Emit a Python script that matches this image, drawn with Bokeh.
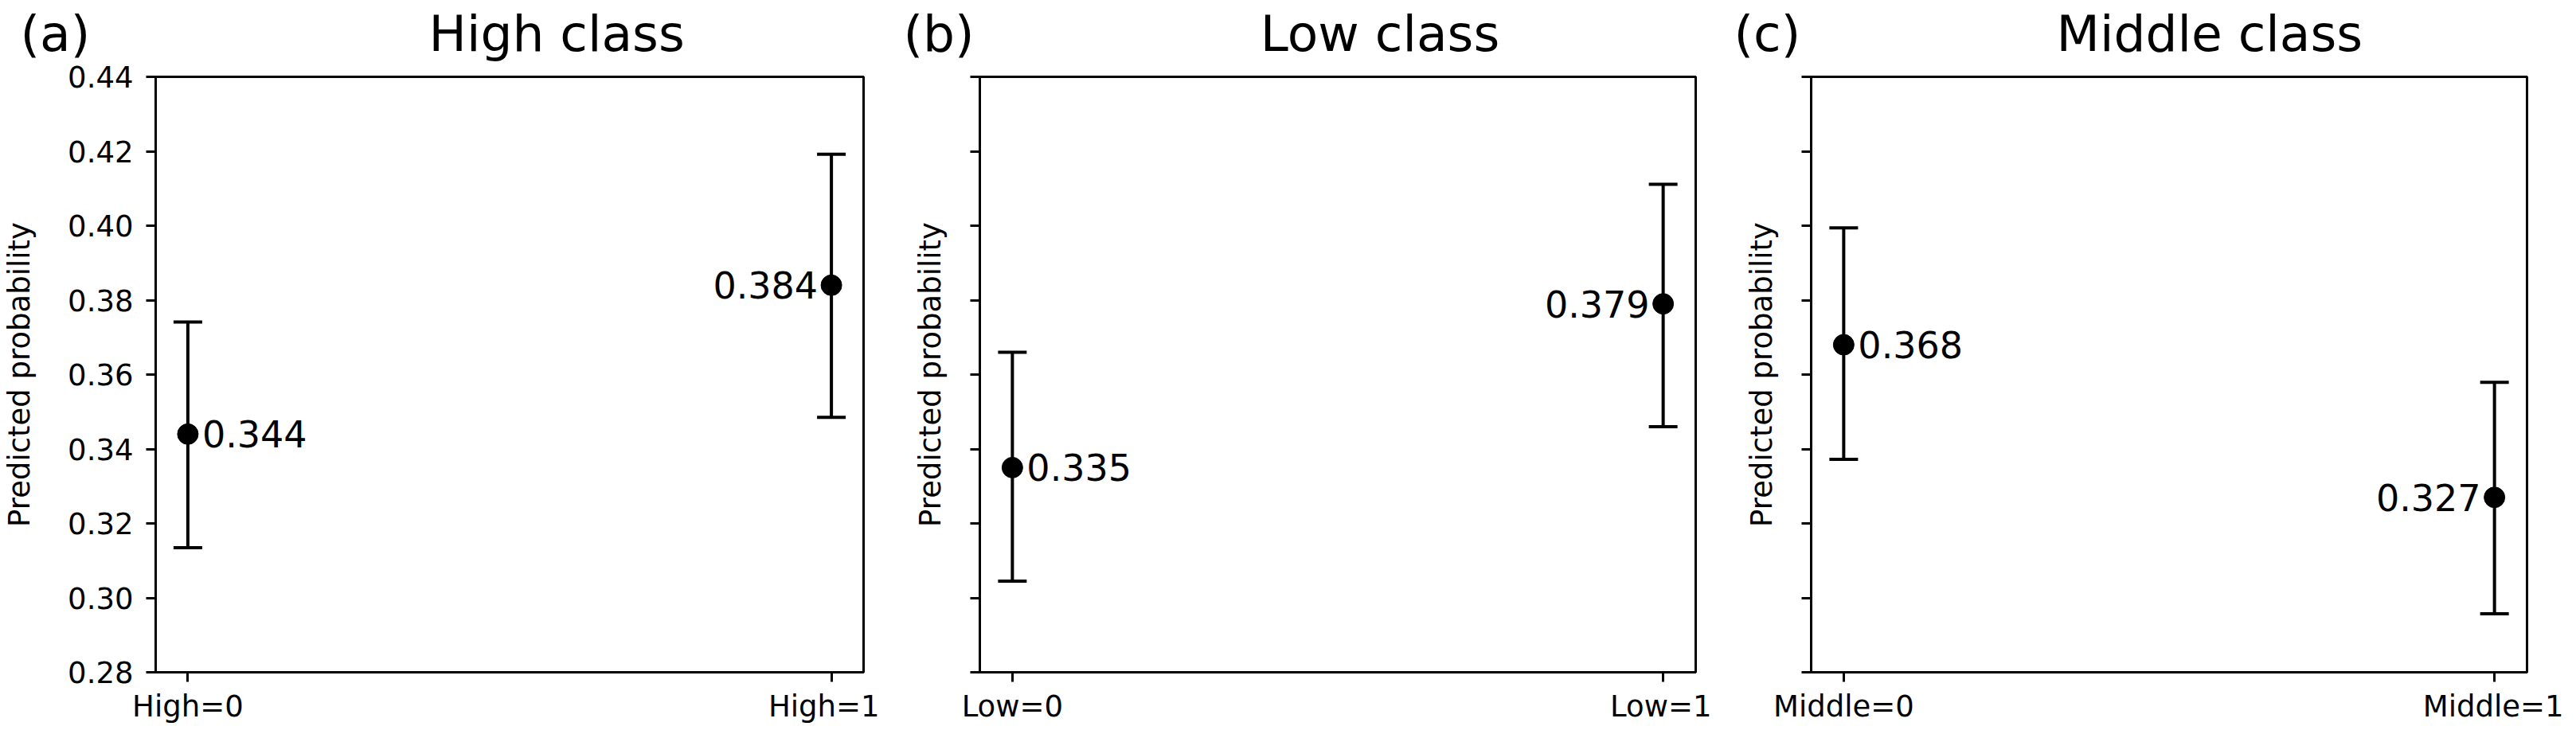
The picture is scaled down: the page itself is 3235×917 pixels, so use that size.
from bokeh.plotting import figure
from bokeh.models import (Range1d, FixedTicker, Whisker, TeeHead, ColumnDataSource,
                          Label, Title, CustomJSTickFormatter)
from bokeh.layouts import row
from bokeh.embed import file_html
from bokeh.resources import INLINE

# ---------------- data ----------------
panel_letters = ["(a)", "(b)", "(c)"]
panel_titles = ["High class", "Low class", "Middle class"]
categories = [["High=0", "High=1"], ["Low=0", "Low=1"], ["Middle=0", "Middle=1"]]
means = [[0.344, 0.384], [0.335, 0.379], [0.368, 0.327]]
lower = [[0.3135, 0.3485], [0.3045, 0.3460], [0.3372, 0.2957]]
upper = [[0.3741, 0.4192], [0.3660, 0.4111], [0.3994, 0.3579]]
y_ticks = [0.28, 0.30, 0.32, 0.34, 0.36, 0.38, 0.40, 0.42, 0.44]
y_label = "Predicted probability"

# ---------------- style ----------------
FONT = "DejaVu Sans"
TITLE_PX = 63
FRAME_W, FRAME_H = 899, 750
BORDER_L = [185, 126, 125]
BORDER_R = [20, 20, 46]
SHIFT_UP = 18                      # canvas starts this far above the page top
BORDER_T, BORDER_B = 96 + SHIFT_UP, 65
TITLE_STANDOFF = 32
LETTER_OFFSET = [-170, -96, -97]          # px from frame left to letter start
TITLE_GAP_EM = [6.756, 5.72, 5.12]        # gap between letter and title, in em


def spacer(gap_em):
    """Build a run of fixed-width unicode spaces about gap_em wide."""
    out = "\u2003" * int(gap_em)
    rem = gap_em - int(gap_em)
    for ch, w in (("\u2002", 0.5), ("\u2005", 0.25), ("\u2009", 0.2), ("\u200a", 0.1)):
        while rem >= w - 0.03:
            out += ch
            rem -= w
    return out


figs = []
for i in range(3):
    x_pos = [0, 1]
    src = ColumnDataSource(dict(x=x_pos, m=means[i], lo=lower[i], hi=upper[i]))
    p = figure(width=BORDER_L[i] + FRAME_W + BORDER_R[i],
               height=BORDER_T + FRAME_H + BORDER_B,
               x_range=Range1d(-0.05, 1.05), y_range=Range1d(0.28, 0.44),
               output_backend="svg", toolbar_location=None,
               min_border_left=BORDER_L[i], min_border_right=BORDER_R[i],
               min_border_top=BORDER_T, min_border_bottom=BORDER_B)
    p.grid.visible = False
    p.outline_line_color = "black"
    p.outline_line_width = 3
    p.background_fill_color = "white"
    p.border_fill_color = "white"

    # title: panel letter + class name on one line
    p.title = Title(text=panel_letters[i] + spacer(TITLE_GAP_EM[i]) + panel_titles[i],
                    align="left", offset=LETTER_OFFSET[i], vertical_align="top",
                    standoff=TITLE_STANDOFF, text_font=FONT,
                    text_font_size=f"{TITLE_PX}px",
                    text_font_style="normal", text_color="black")

    # axes
    p.xaxis.ticker = FixedTicker(ticks=x_pos)
    p.xaxis.major_label_overrides = {x: c for x, c in zip(x_pos, categories[i])}
    p.yaxis.ticker = FixedTicker(ticks=y_ticks)
    p.yaxis.major_label_overrides = {t: f"{t:.2f}" for t in y_ticks}
    for ax in (p.xaxis[0], p.yaxis[0]):
        ax.axis_line_width = 3
        ax.axis_line_color = "black"
        ax.major_tick_line_width = 3
        ax.major_tick_line_color = "black"
        ax.major_tick_out = 12
        ax.major_tick_in = 0
        ax.minor_tick_out = 0
        ax.minor_tick_in = 0
        ax.major_label_text_font = FONT
        ax.major_label_text_font_size = "37px"
        ax.major_label_text_color = "black"
    p.xaxis.major_label_standoff = 9
    p.yaxis.major_label_standoff = 16
    p.yaxis.axis_label = y_label
    p.yaxis.axis_label_text_font = FONT
    p.yaxis.axis_label_text_font_size = "37px"
    p.yaxis.axis_label_text_font_style = "normal"
    p.yaxis.axis_label_text_color = "black"
    if i == 0:
        p.yaxis.axis_label_standoff = 36
    else:
        p.yaxis.formatter = CustomJSTickFormatter(code="return ''")
        p.yaxis.major_label_overrides = {}
        p.yaxis.major_label_text_font_size = "0px"
        p.yaxis.axis_label_standoff = 29

    # error bars
    w = Whisker(source=src, base="x", lower="lo", upper="hi", dimension="height",
                line_color="black", line_width=4,
                upper_head=TeeHead(size=36, line_color="black", line_width=4),
                lower_head=TeeHead(size=36, line_color="black", line_width=4))
    p.add_layout(w)
    p.scatter("x", "m", source=src, size=26, color="black")

    # value labels
    p.add_layout(Label(x=x_pos[0], y=means[i][0], text=f"{means[i][0]:.3f}",
                       x_offset=18, text_align="left", text_baseline="middle",
                       text_font=FONT, text_font_size="46px", text_color="black"))
    p.add_layout(Label(x=x_pos[1], y=means[i][1], text=f"{means[i][1]:.3f}",
                       x_offset=-17, text_align="right", text_baseline="middle",
                       text_font=FONT, text_font_size="46px", text_color="black"))
    figs.append(p)

layout = row(*figs, spacing=0, styles={"margin-top": f"-{SHIFT_UP}px"})
open("out.html", "w").write(file_html(layout, INLINE))
